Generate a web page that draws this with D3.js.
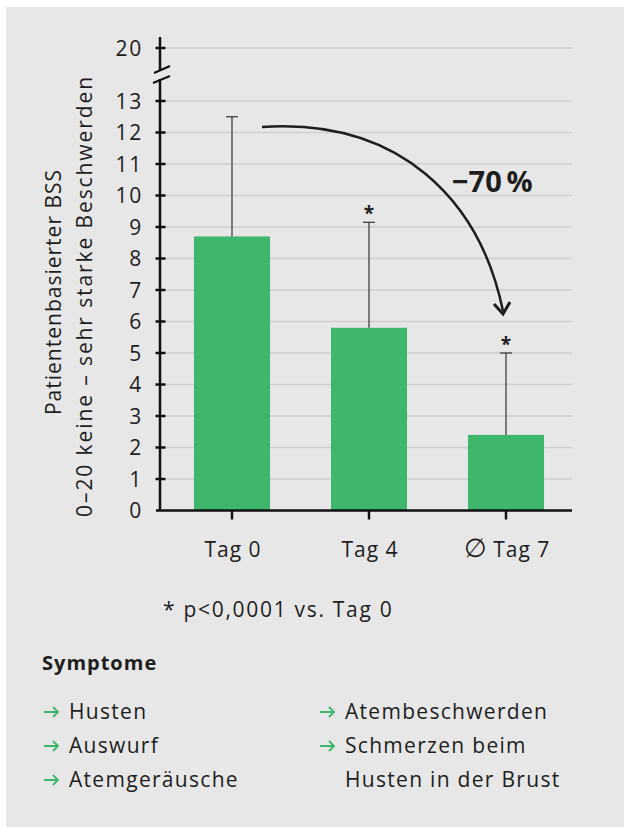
<!DOCTYPE html>
<html>
<head>
<meta charset="utf-8">
<script src="https://cdn.jsdelivr.net/npm/d3@7"></script>
<style>
  body { margin: 0; background: #fff; }
  svg { display: block; }
  text { font-family: "Open Sans", sans-serif; fill: #1e1e1e; }
</style>
</head>
<body>
<div id="chart"></div>
<script>
// data
const categories = ["Tag 0", "Tag 4", "\u2205 Tag 7"];
const meanValues = [8.7, 5.8, 2.4];
const upperError = [12.5, 9.15, 5.0];
const significant = [false, true, true];
const yTicks = [0, 1, 2, 3, 4, 5, 6, 7, 8, 9, 10, 11, 12, 13, 20];
const yLabelLines = ["Patientenbasierter BSS", "0\u201320 keine \u2013 sehr starke Beschwerden"];
const reduction = "\u221270\u2009%";
const footnote = "* p<0,0001 vs. Tag 0";
const symptomsLeft = ["Husten", "Auswurf", "Atemger\u00e4usche"];
const symptomsRight = [["Atembeschwerden"], ["Schmerzen beim", "Husten in der Brust"]];

const width = 624, height = 827;
const green = "#3eb66b";
const ink = "#1e1e1e";

const svg = d3.select("#chart").append("svg")
    .attr("width", width)
    .attr("height", height);

// grey panel
svg.append("rect")
    .attr("x", 6).attr("y", 7)
    .attr("width", width - 6).attr("height", height - 7)
    .attr("fill", "#e6e7e6");

const axisX = 160;
const gridRight = 572;

// broken axis: 0..13 linear, then jump to 20
const y = d3.scaleLinear()
    .domain([0, 13, 20])
    .range([510.5, 101, 48]);

const x = d3.scaleBand()
    .domain(categories)
    .range([163.5, 574.5])
    .paddingInner(0.445)
    .paddingOuter(0.2225);

// gridlines
svg.append("g")
    .selectAll("line")
    .data(yTicks.filter(d => d > 0))
    .join("line")
    .attr("x1", axisX).attr("x2", gridRight)
    .attr("y1", d => y(d)).attr("y2", d => y(d))
    .attr("stroke", "#cdcecd")
    .attr("stroke-width", 1.5);

// bars
svg.append("g")
    .selectAll("rect")
    .data(meanValues)
    .join("rect")
    .attr("x", (d, i) => x(categories[i]))
    .attr("width", x.bandwidth())
    .attr("y", d => y(d))
    .attr("height", d => y(0) - y(d))
    .attr("fill", green);

// error bars (upper only)
const err = svg.append("g")
    .attr("stroke", "#333")
    .attr("stroke-width", 1.2);

categories.forEach((c, i) => {
    const cx = x(c) + x.bandwidth() / 2;
    err.append("line")
        .attr("x1", cx).attr("x2", cx)
        .attr("y1", y(meanValues[i])).attr("y2", y(upperError[i]));
    err.append("line")
        .attr("x1", cx - 6).attr("x2", cx + 6)
        .attr("y1", y(upperError[i])).attr("y2", y(upperError[i]));
    if (significant[i]) {
        svg.append("text")
            .attr("x", cx)
            .attr("y", y(upperError[i]) - 2)
            .attr("text-anchor", "middle")
            .attr("font-size", 19)
            .attr("font-weight", 700)
            .text("*");
    }
});

// y axis line with break
const axisG = svg.append("g")
    .attr("stroke", "#111")
    .attr("stroke-width", 2.5);

axisG.append("line")
    .attr("x1", axisX).attr("x2", axisX)
    .attr("y1", 37).attr("y2", 70);
axisG.append("line")
    .attr("x1", axisX).attr("x2", axisX)
    .attr("y1", 79).attr("y2", y(0));

// break slashes
axisG.append("line")
    .attr("x1", 154).attr("y1", 73).attr("x2", 170).attr("y2", 66)
    .attr("stroke-width", 2);
axisG.append("line")
    .attr("x1", 153).attr("y1", 83).attr("x2", 170).attr("y2", 76)
    .attr("stroke-width", 2);

// y ticks crossing the axis
axisG.selectAll(".ytick")
    .data(yTicks.filter(d => d > 0))
    .join("line")
    .attr("class", "ytick")
    .attr("x1", axisX - 4.5).attr("x2", axisX + 5.5)
    .attr("y1", d => y(d)).attr("y2", d => y(d));

svg.append("g")
    .selectAll("text")
    .data(yTicks)
    .join("text")
    .attr("x", 143)
    .attr("y", d => y(d))
    .attr("dy", "0.36em")
    .attr("text-anchor", "end")
    .attr("font-size", 21)
    .attr("letter-spacing", 1.8)
    .text(d => d);

// x axis
axisG.append("line")
    .attr("x1", axisX - 4).attr("x2", gridRight)
    .attr("y1", y(0)).attr("y2", y(0));

axisG.selectAll(".xtick")
    .data(categories)
    .join("line")
    .attr("class", "xtick")
    .attr("x1", d => x(d) + x.bandwidth() / 2)
    .attr("x2", d => x(d) + x.bandwidth() / 2)
    .attr("y1", y(0)).attr("y2", y(0) + 9);

svg.append("g")
    .selectAll("text")
    .data(categories)
    .join("text")
    .attr("x", d => x(d) + x.bandwidth() / 2 + 1)
    .attr("y", 557)
    .attr("text-anchor", "middle")
    .attr("font-size", 21)
    .attr("letter-spacing", 1)
    .each(function (d) {
        const t = d3.select(this);
        if (d.startsWith("\u2205")) {
            t.append("tspan").attr("font-size", 26).attr("letter-spacing", 0).text("\u2205");
            t.append("tspan").text(d.slice(1));
        } else {
            t.text(d);
        }
    });

// y label
svg.append("g")
    .selectAll("text")
    .data(yLabelLines)
    .join("text")
    .attr("transform", (d, i) => `translate(${[61, 92][i]},${[292, 296][i]}) rotate(-90)`)
    .attr("text-anchor", "middle")
    .attr("font-size", 21)
    .attr("letter-spacing", (d, i) => [1.0, 1.9][i])
    .text(d => d);

// reduction arrow
svg.append("path")
    .attr("d", `M262,127 C400,118 480,200 503,${y(upperError[2]) - 42}`)
    .attr("fill", "none")
    .attr("stroke", ink)
    .attr("stroke-width", 2.5);

svg.append("path")
    .attr("d", "M494,304 L503,314 L510,302")
    .attr("fill", "none")
    .attr("stroke", ink)
    .attr("stroke-width", 3);

svg.append("text")
    .attr("x", 452)
    .attr("y", 192)
    .attr("font-size", 29)
    .attr("font-weight", 700)
    .text(reduction);

// footnote
svg.append("text")
    .attr("x", 163)
    .attr("y", 617)
    .attr("font-size", 21)
    .attr("letter-spacing", 1.7)
    .text(footnote);

// symptoms
svg.append("text")
    .attr("x", 42)
    .attr("y", 670)
    .attr("font-size", 20)
    .attr("font-weight", 700)
    .attr("letter-spacing", 1)
    .text("Symptome");

const rowY = [719, 753, 787];

function bullet(x0, yy) {
    svg.append("path")
        .attr("d", `M${x0},${yy} h14 M${x0 + 9},${yy - 5} l5,5 l-5,5`)
        .attr("fill", "none")
        .attr("stroke", green)
        .attr("stroke-width", 1.8);
}

symptomsLeft.forEach((s, i) => {
    bullet(44, rowY[i] - 7);
    svg.append("text").attr("x", 69).attr("y", rowY[i])
        .attr("font-size", 21).attr("letter-spacing", 1.3).text(s);
});

let r = 0;
symptomsRight.forEach(lines => {
    bullet(320, rowY[r] - 7);
    lines.forEach(l => {
        svg.append("text").attr("x", 345).attr("y", rowY[r])
            .attr("font-size", 21).attr("letter-spacing", 1.3).text(l);
        r++;
    });
});
</script>
</body>
</html>
